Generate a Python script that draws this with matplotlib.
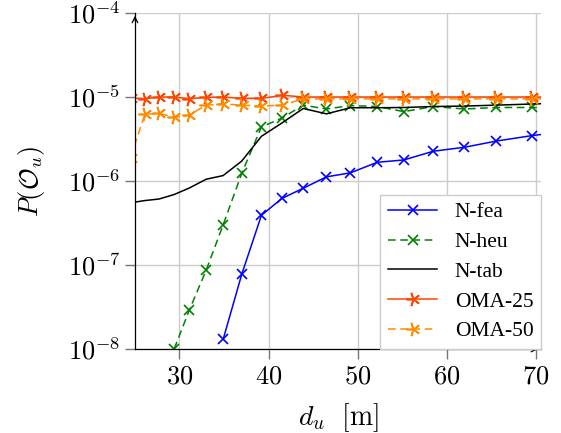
import numpy as np
import matplotlib.pyplot as plt
from matplotlib.ticker import FixedLocator, FuncFormatter, NullLocator

plt.switch_backend("Agg")
plt.rcParams["mathtext.fontset"] = "cm"

# distance grid (first and last points lie just outside the visible range)
d_u = [24.5, 26.1, 27.7, 29.4, 31.1, 33.0, 34.9, 37.0, 39.2, 41.5, 43.9,
       46.5, 49.2, 52.2, 55.2, 58.5, 62.0, 65.6, 69.6, 73.5]

n_fea = [None, None, None, None, None, None, 1.3e-8, 7.8e-8, 3.9e-7, 6.2e-7,
         8.2e-7, 1.12e-6, 1.25e-6, 1.67e-6, 1.78e-6, 2.26e-6, 2.52e-6,
         2.99e-6, 3.47e-6, 3.9e-6]
n_heu = [None, None, None, 1.0e-8, 2.9e-8, 8.7e-8, 3.0e-7, 1.24e-6, 4.4e-6,
         5.6e-6, 8.0e-6, 7.2e-6, 7.9e-6, 7.7e-6, 6.7e-6, 7.7e-6, 7.2e-6,
         7.5e-6, 7.5e-6, 7.4e-6]
n_tab = [5.5e-7, 5.85e-7, 6.1e-7, 6.9e-7, 8.25e-7, 1.05e-6, 1.16e-6, 1.73e-6,
         3.4e-6, 4.9e-6, 7.3e-6, 6.3e-6, 7.45e-6, 7.45e-6, 7.5e-6, 7.7e-6,
         7.8e-6, 8.0e-6, 8.25e-6, 8.5e-6]
oma_25 = [0.97e-5, 0.95e-5, 1.0e-5, 1.0e-5, 0.95e-5, 0.99e-5, 1.0e-5, 0.96e-5,
          0.96e-5, 1.05e-5, 1.0e-5, 1.0e-5, 1.0e-5, 1.0e-5, 1.0e-5, 1.0e-5,
          1.0e-5, 1.0e-5, 1.0e-5, 1.0e-5]
oma_50 = [1.9e-6, 6.2e-6, 6.4e-6, 5.7e-6, 6.1e-6, 8.0e-6, 8.25e-6, 8.0e-6,
          7.8e-6, 8.0e-6, 9.5e-6, 9.5e-6, 9.5e-6, 9.5e-6, 9.5e-6, 9.5e-6,
          9.5e-6, 9.5e-6, 9.5e-6, 9.5e-6]

x_ticks = [30, 40, 50, 60, 70]
y_ticks = [1e-8, 1e-7, 1e-6, 1e-5, 1e-4]


def as_array(vals):
    return np.array([np.nan if v is None else v for v in vals], dtype=float)


fig = plt.figure(figsize=(5.61, 4.33), dpi=100)
ax = fig.add_axes([0.2406, 0.194, 0.7237, 0.776])

star = (5, 2, 90)  # five-spoke asterisk
ax.plot(d_u, as_array(n_fea), color="blue", lw=1.1, marker="x", ms=7, mew=1.2, label="N-fea")
ax.plot(d_u, as_array(n_heu), color="green", lw=1.1, ls=(0, (5, 3)), marker="x", ms=7, mew=1.2,
        label="N-heu")
ax.plot(d_u, as_array(n_tab), color="black", lw=1.1, label="N-tab")
ax.plot(d_u, as_array(oma_25), color="orangered", lw=1.1, marker=star, ms=10, mew=1.2,
        label="OMA-25")
ax.plot(d_u, as_array(oma_50), color="darkorange", lw=1.1, ls=(0, (5, 3)), marker=star, ms=10,
        mew=1.2, label="OMA-50")

ax.set_yscale("log")
ax.set_xlim(25, 70.6)
ax.set_ylim(1e-8, 1e-4)
ax.xaxis.set_major_locator(FixedLocator(x_ticks))
ax.yaxis.set_major_locator(FixedLocator(y_ticks))
ax.yaxis.set_minor_locator(NullLocator())
ax.xaxis.set_minor_locator(NullLocator())
ax.yaxis.set_major_formatter(FuncFormatter(lambda v, p: f"$10^{{{int(round(np.log10(v)))}}}$"))
ax.xaxis.set_major_formatter(FuncFormatter(lambda v, p: f"${int(v)}$"))
ax.tick_params(direction="out", length=7.5, width=1, color="#777777", labelsize=19, pad=3)

ax.grid(True, color="#cccccc", lw=1)
ax.set_axisbelow(True)
for side in ["top", "right"]:
    ax.spines[side].set_visible(False)
for side in ["left", "bottom"]:
    ax.spines[side].set_linewidth(0.9)

# arrow heads at spine ends
ax.annotate("", xy=(0, 1.0), xytext=(0, 0.97), xycoords="axes fraction",
            arrowprops=dict(arrowstyle="->", lw=0.9, color="black"))
ax.annotate("", xy=(1.0, 0), xytext=(0.97, 0), xycoords="axes fraction",
            arrowprops=dict(arrowstyle="->", lw=0.9, color="black"))

ax.set_xlabel(r"$d_u\ \ [\mathrm{m}]$", fontsize=20, labelpad=8)
ax.set_ylabel(r"$P(\mathcal{O}_u)$", fontsize=19, labelpad=15)

leg = ax.legend(loc="lower right", prop={"family": "Liberation Serif", "size": 15.5},
                frameon=True, fancybox=False, edgecolor="#cccccc", framealpha=1,
                borderaxespad=0.0, handlelength=2.3, labelspacing=0.45, borderpad=0.35)
leg.get_frame().set_linewidth(1)

fig.savefig("out.png", dpi=100)
plt.close(fig)
